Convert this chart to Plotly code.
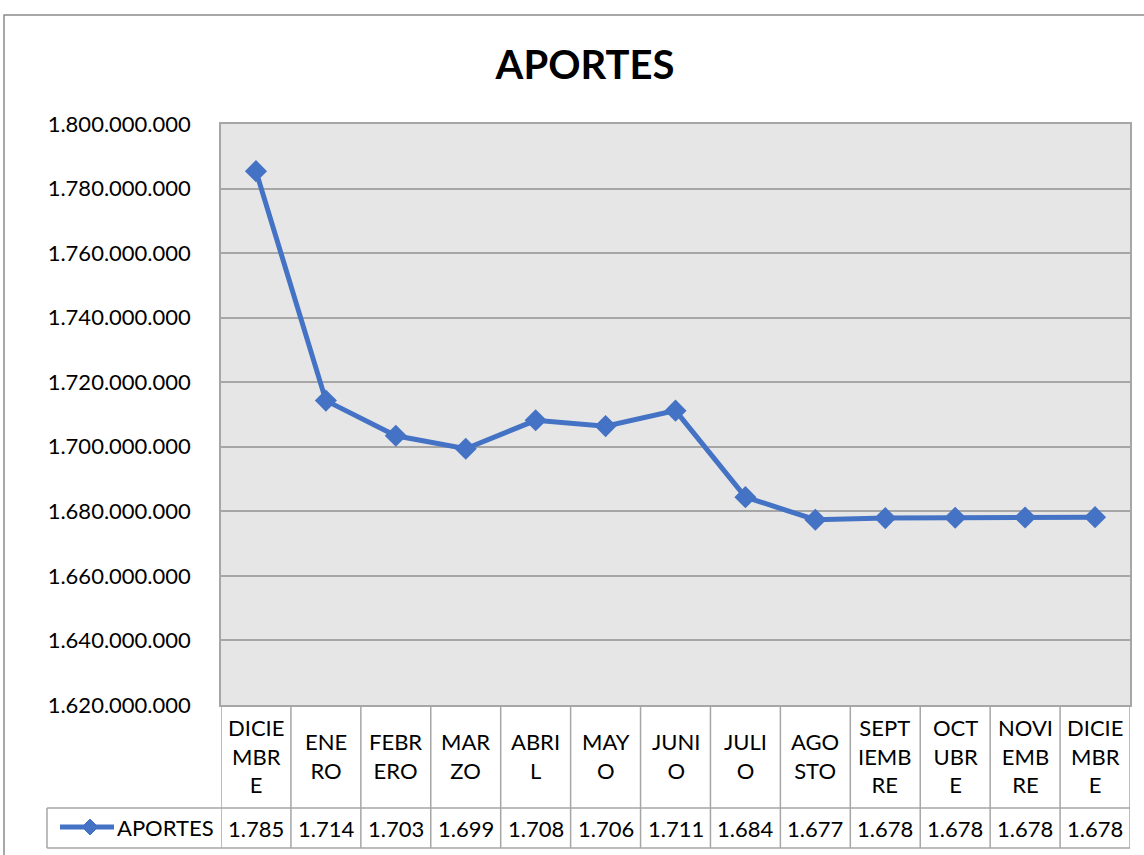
import plotly.graph_objects as go

# ---- data ----
months = ["DICIEMBRE", "ENERO", "FEBRERO", "MARZO", "ABRIL", "MAYO", "JUNIO",
          "JULIO", "AGOSTO", "SEPTIEMBRE", "OCTUBRE", "NOVIEMBRE", "DICIEMBRE"]
month_labels = ["DICIE<br>MBR<br>E", "ENE<br>RO", "FEBR<br>ERO", "MAR<br>ZO", "ABRI<br>L",
                "MAY<br>O", "JUNI<br>O", "JULI<br>O", "AGO<br>STO", "SEPT<br>IEMB<br>RE",
                "OCT<br>UBR<br>E", "NOVI<br>EMB<br>RE", "DICIE<br>MBR<br>E"]
aportes = [1785400000, 1714300000, 1703400000, 1699400000, 1708200000, 1706400000,
           1711200000, 1684400000, 1677400000, 1677900000, 1678000000, 1678100000,
           1678200000]
series_name = "APORTES"
y_ticks = [1620000000 + 20000000 * i for i in range(10)]

W, H = 1144, 855
FONT = "Lato"
BLUE = "#4472C4"
GRID = "#a6a6a6"
TBL = "#a6a6a6"
FS = 22


def px(xp):
    return xp / W


def py(yp):
    return 1 - yp / H


x_idx = list(range(len(months)))

fig = go.Figure()
fig.add_trace(go.Scatter(
    x=x_idx, y=aportes, mode="lines+markers", name=series_name,
    line=dict(color=BLUE, width=5),
    marker=dict(symbol="diamond", size=17, color=BLUE),
    customdata=months, hovertemplate="%{customdata}: %{y:,d}<extra></extra>",
))

shapes = []
annotations = []

# outer chart border
shapes.append(dict(type="rect", xref="paper", yref="paper",
                   x0=px(4), x1=px(1150), y0=py(15), y1=py(880),
                   line=dict(color="#8c8c8c", width=1.5), layer="below"))

# data table: category row and values row
y_top, y_mid, y_bot = 705, 808, 848
for i in range(len(months) + 1):
    shapes.append(dict(type="line", xref="x", yref="paper",
                       x0=i - 0.5, x1=i - 0.5, y0=py(y_top), y1=py(y_bot),
                       line=dict(color=TBL, width=1.5)))
for yy in (y_mid, y_bot):
    shapes.append(dict(type="line", xref="paper", yref="paper",
                       x0=px(47), x1=px(1130), y0=py(yy), y1=py(yy),
                       line=dict(color=TBL, width=1.5)))
shapes.append(dict(type="line", xref="paper", yref="paper",
                   x0=px(47), x1=px(47), y0=py(y_mid), y1=py(y_bot),
                   line=dict(color=TBL, width=1.5)))

# legend key in table
shapes.append(dict(type="line", xref="paper", yref="paper",
                   x0=px(60), x1=px(114), y0=py(827), y1=py(827),
                   line=dict(color=BLUE, width=5)))
cx, cy, r = 90, 827, 8
shapes.append(dict(type="path", xref="paper", yref="paper",
                   path=f"M {px(cx - r)} {py(cy)} L {px(cx)} {py(cy - r)} L {px(cx + r)} {py(cy)} L {px(cx)} {py(cy + r)} Z",
                   fillcolor=BLUE, line=dict(color=BLUE, width=1)))
annotations.append(dict(xref="paper", yref="paper", x=px(115), y=py(827),
                        text=series_name, showarrow=False, xanchor="left", yanchor="middle",
                        font=dict(family=FONT, size=FS, color="black")))

for i, (lab, v) in enumerate(zip(month_labels, aportes)):
    annotations.append(dict(xref="x", yref="paper", x=i, y=py(756), text=lab,
                            showarrow=False, xanchor="center", yanchor="middle",
                            font=dict(family=FONT, size=FS, color="black")))
    val = f"{v / 1e6:,.0f}".replace(",", ".")
    annotations.append(dict(xref="x", yref="paper", x=i, y=py(828), text=val,
                            showarrow=False, xanchor="center", yanchor="middle",
                            font=dict(family=FONT, size=FS, color="black")))

fig.update_layout(
    width=W, height=H, autosize=False,
    margin=dict(l=0, r=0, t=0, b=0, pad=0, autoexpand=False),
    paper_bgcolor="white", plot_bgcolor="#e6e6e6",
    separators=",.",
    showlegend=False,
    title=dict(text="<b>APORTES</b>", x=px(585), xanchor="center", y=py(65), yanchor="middle",
               font=dict(family=FONT, size=40, color="black")),
    xaxis=dict(domain=[px(221), px(1130)], range=[-0.5, len(months) - 0.5], automargin=False,
               showticklabels=False, showgrid=False, zeroline=False,
               showline=True, linecolor=GRID, linewidth=1.5, mirror=True, fixedrange=True),
    yaxis=dict(domain=[py(705), py(124)], range=[y_ticks[0], y_ticks[-1]], automargin=False,
               tickvals=y_ticks, tickformat=",d", showgrid=True, gridcolor=GRID, gridwidth=1.5,
               zeroline=False, showline=True, linecolor=GRID, linewidth=1.5, mirror=True,
               ticks="", ticklabelstandoff=24,
               tickfont=dict(family=FONT, size=FS, color="black")),
    shapes=shapes, annotations=annotations,
)

fig.write_html("out.html", config={"displayModeBar": False},
               post_script="document.body.style.margin='0';document.body.style.overflow='hidden';")
